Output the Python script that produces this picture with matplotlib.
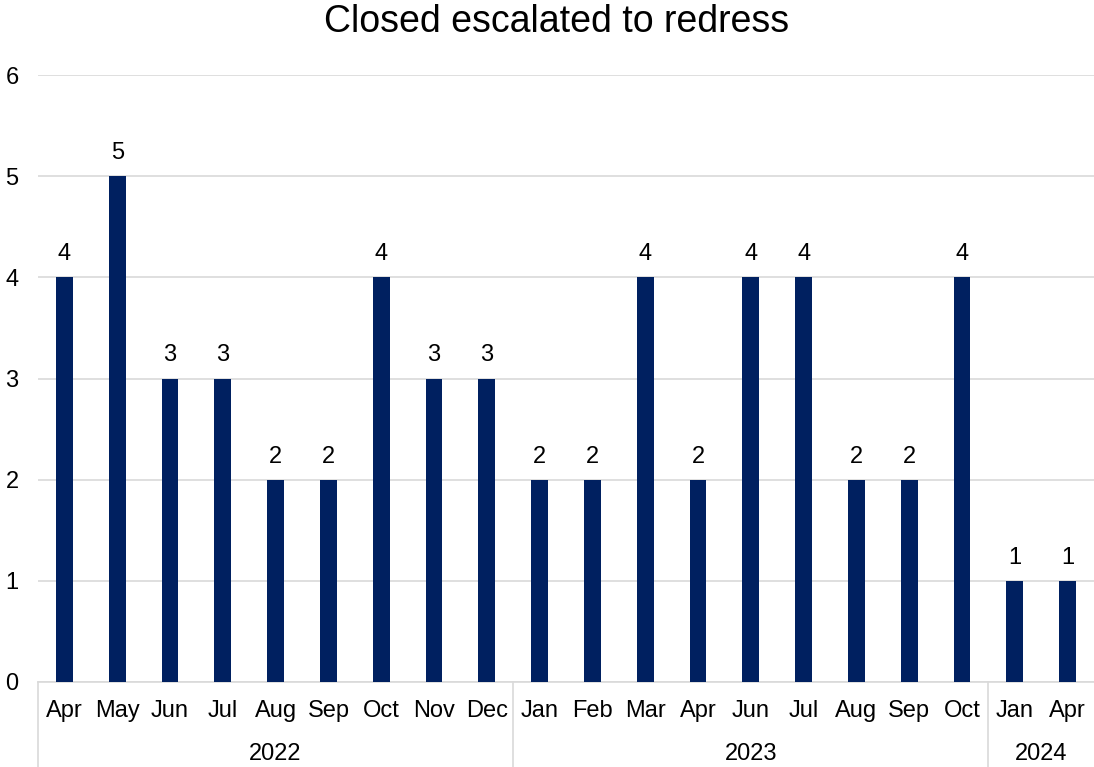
import numpy as np
import matplotlib.pyplot as plt
import matplotlib.transforms as mtransforms

plt.rcParams['font.family'] = ['Liberation Sans', 'DejaVu Sans']

months = ['Apr', 'May', 'Jun', 'Jul', 'Aug', 'Sep', 'Oct', 'Nov', 'Dec',
          'Jan', 'Feb', 'Mar', 'Apr', 'Jun', 'Jul', 'Aug', 'Sep', 'Oct',
          'Jan', 'Apr']
values = [4, 5, 3, 3, 2, 2, 4, 3, 3,
          2, 2, 4, 2, 4, 4, 2, 2, 4,
          1, 1]
years = ['2022', '2023', '2024']
year_counts = [9, 9, 2]

bar_color = '#002060'
grid_color = '#D9D9D9'
fs = 17

fig = plt.figure(figsize=(10.94, 7.67), dpi=100)
ax = fig.add_axes([38 / 1094, 1 - 682 / 767, 1 - 38 / 1094, (682 - 75) / 767])

x = np.arange(len(values))
bars = ax.bar(x, values, width=0.32, color=bar_color, zorder=3)
for xi, v in zip(x, values):
    ax.text(xi, v + 0.12, str(v), ha='center', va='bottom', fontsize=fs)

ax.set_xlim(-0.5, len(values) - 0.5)
ax.set_ylim(0, 6)
ax.set_yticks(range(0, 7))
ax.tick_params(axis='y', length=0, labelsize=fs, pad=14)
ax.yaxis.grid(True, color=grid_color, linewidth=1.2, zorder=0)
for s in ['top', 'right', 'left']:
    ax.spines[s].set_visible(False)
ax.spines['bottom'].set_color(grid_color)
ax.spines['bottom'].set_linewidth(1.2)

ax.set_xticks(x)
ax.set_xticklabels(months, fontsize=fs)
ax.tick_params(axis='x', length=0, pad=13)

# year groups below month labels
trans = mtransforms.blended_transform_factory(ax.transData, ax.transAxes)
bottom = -85 / 607
start = 0
edges = [-0.5]
for yr, n in zip(years, year_counts):
    mid = start + (n - 1) / 2
    ax.text(mid, -72 / 607, yr, transform=trans, ha='center', va='center', fontsize=fs)
    start += n
    edges.append(start - 0.5)
for e in edges[:-1]:
    ax.plot([e, e], [0, bottom], transform=trans, color=grid_color,
            linewidth=1.2, clip_on=False)

fig.suptitle('Closed escalated to redress', fontsize=27, x=557 / 1094,
             y=1 - 22 / 767, va='center')

fig.savefig('out.png', dpi=100)
